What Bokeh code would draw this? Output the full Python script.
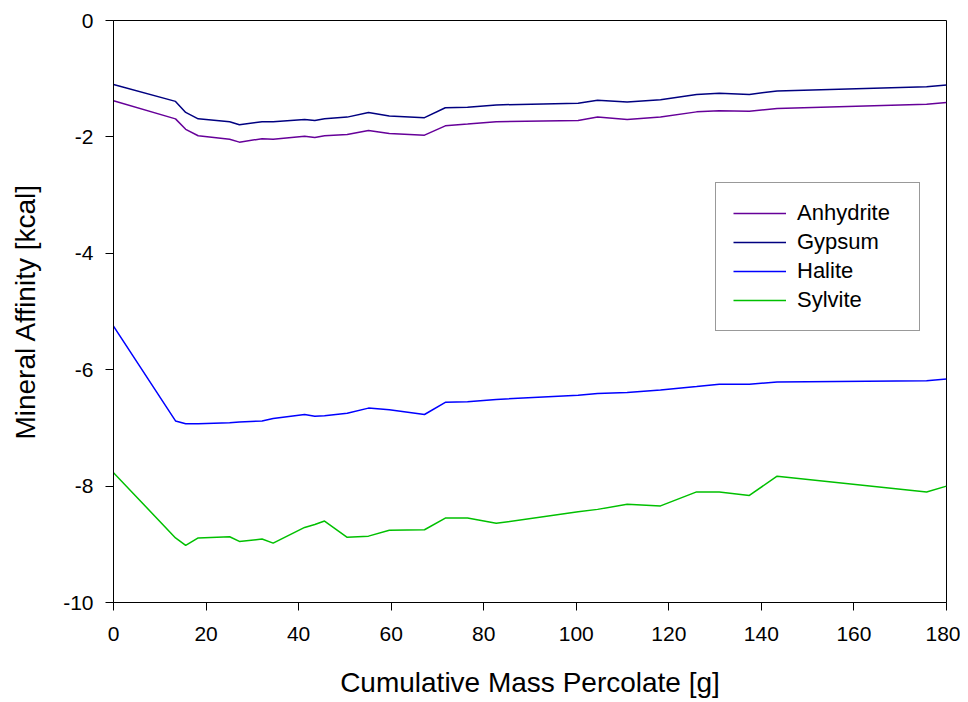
from bokeh.plotting import figure
from bokeh.models import Range1d, FixedTicker, Legend, LegendItem
from bokeh.embed import file_html
from bokeh.resources import INLINE

# Cumulative mass percolate [g]
mass = [0, 13.4, 15.6, 18.3, 25.1, 27.2, 32.1, 34.5, 41.3, 43.5, 45.6, 50.5,
        55.1, 59.6, 67.2, 71.7, 76.5, 82.7, 100.4, 104.6, 111.0, 118.2, 126.0,
        130.9, 137.4, 143.4, 175.7, 180.0]

anhydrite = [-1.38, -1.69, -1.87, -1.98, -2.04, -2.09, -2.03, -2.04, -1.99, -2.01,
             -1.98, -1.96, -1.89, -1.94, -1.97, -1.81, -1.78, -1.74, -1.72, -1.66,
             -1.70, -1.66, -1.57, -1.55, -1.56, -1.51, -1.44, -1.41]
gypsum = [-1.10, -1.39, -1.58, -1.69, -1.74, -1.79, -1.74, -1.74, -1.70, -1.72,
          -1.69, -1.66, -1.58, -1.64, -1.67, -1.50, -1.49, -1.45, -1.42, -1.37,
          -1.40, -1.36, -1.27, -1.25, -1.27, -1.21, -1.14, -1.11]
halite = [-5.25, -6.88, -6.93, -6.93, -6.91, -6.90, -6.88, -6.84, -6.77, -6.80,
          -6.79, -6.75, -6.66, -6.69, -6.77, -6.56, -6.55, -6.51, -6.44, -6.41,
          -6.39, -6.35, -6.29, -6.25, -6.25, -6.21, -6.19, -6.16]
sylvite = [-7.77, -8.89, -9.02, -8.89, -8.87, -8.95, -8.91, -8.98, -8.71, -8.66,
           -8.60, -8.88, -8.86, -8.76, -8.75, -8.55, -8.55, -8.64, -8.44, -8.40,
           -8.31, -8.34, -8.10, -8.10, -8.16, -7.83, -8.10, -8.00]

series_names = ["Anhydrite", "Gypsum", "Halite", "Sylvite"]
series_colors = ["#660099", "#000080", "#0000ff", "#00c000"]

x_ticks = [0, 20, 40, 60, 80, 100, 120, 140, 160, 180]
y_ticks = [0, -2, -4, -6, -8, -10]

FONT = "Liberation Sans"

p = figure(width=960, height=700, output_backend="svg", toolbar_location=None,
           x_range=Range1d(0, 180), y_range=Range1d(-10, 0),
           min_border_left=113, min_border_right=14, min_border_top=20,
           min_border_bottom=97)

p.xgrid.visible = False
p.ygrid.visible = False
p.outline_line_color = "black"
p.outline_line_width = 1
p.background_fill_color = "white"
p.border_fill_color = "white"

for ax, ticks in ((p.xaxis, x_ticks), (p.yaxis, y_ticks)):
    ax.ticker = FixedTicker(ticks=ticks)
    ax.major_label_overrides = {t: str(t) for t in ticks}
    ax.minor_tick_line_color = None
    ax.major_tick_in = 0
    ax.major_tick_out = 8
    ax.major_tick_line_color = "black"
    ax.axis_line_color = "black"
    ax.major_label_text_font = FONT
    ax.major_label_text_font_size = "21px"
    ax.major_label_text_color = "black"
    ax.axis_label_text_font = FONT
    ax.axis_label_text_font_size = "28px"
    ax.axis_label_text_font_style = "normal"
    ax.axis_label_text_color = "black"

p.xaxis.axis_label = "Cumulative Mass Percolate [g]"
p.yaxis.axis_label = "Mineral Affinity [kcal]"
p.xaxis.major_label_standoff = 16
p.xaxis.axis_label_standoff = 23
p.yaxis.major_label_standoff = 12
p.yaxis.axis_label_standoff = 19

items = []
for name, ys, col in zip(series_names, [anhydrite, gypsum, halite, sylvite], series_colors):
    r = p.line(mass, ys, line_color=col, line_width=1.5)
    items.append(LegendItem(label=name, renderers=[r]))

legend = Legend(items=items, location=(602, 271), padding=17, spacing=3,
                label_height=24, glyph_height=24, glyph_width=53,
                label_width=105, label_standoff=11,
                label_text_font=FONT, label_text_font_size="22px",
                label_text_color="black",
                border_line_color="#333333", border_line_width=1,
                background_fill_color="white", background_fill_alpha=1.0)
p.add_layout(legend, "center")

open("out.html", "w").write(file_html(p, INLINE))
